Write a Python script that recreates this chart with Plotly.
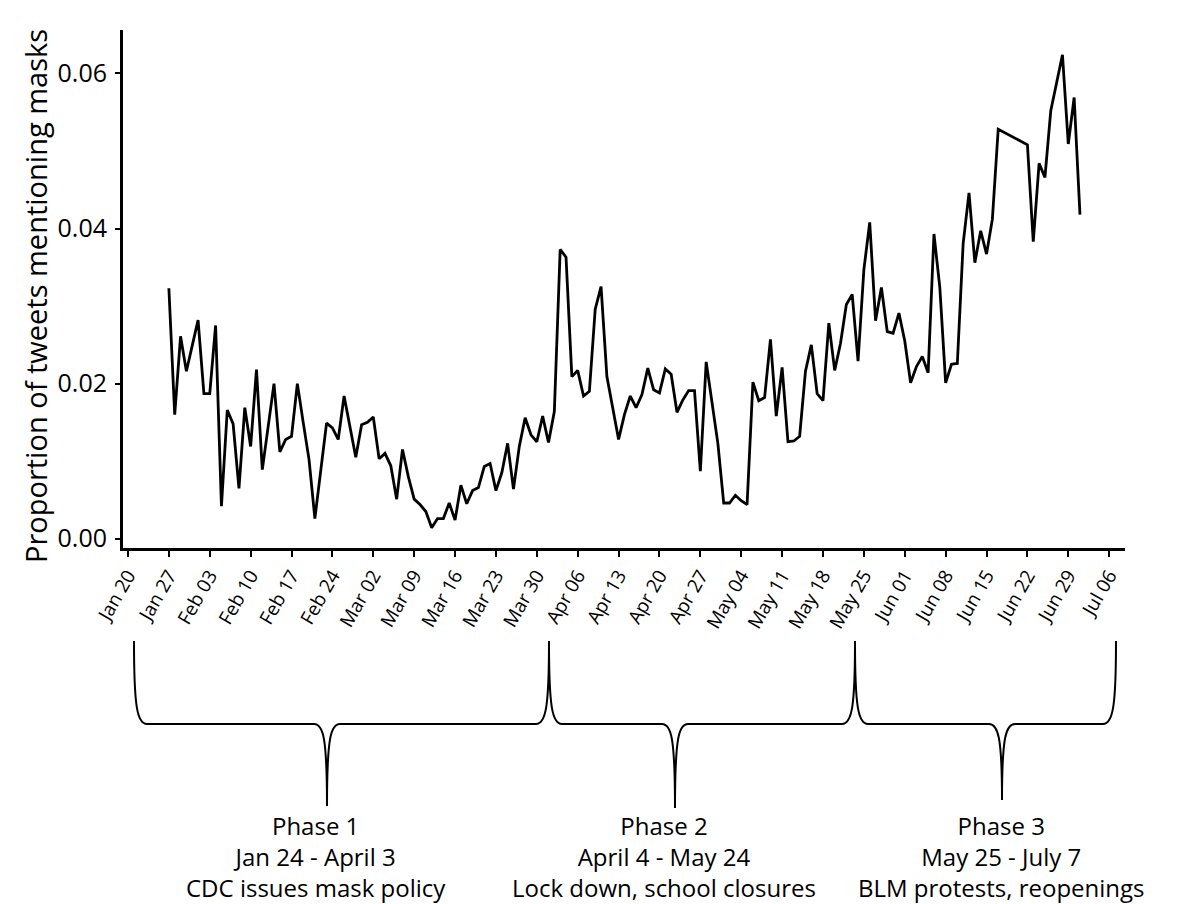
import plotly.graph_objects as go
import pandas as pd

# ---------------- data ----------------
dates = pd.date_range("2020-01-27", "2020-07-01", freq="D")
mask_share = [
    0.0323, 0.0160, 0.0261, 0.0216, 0.0249, 0.0282, 0.0187, 0.0187, 0.0275, 0.0042,  # Jan27-Feb05
    0.0166, 0.0148, 0.0065, 0.0169, 0.0119, 0.0218, 0.0089, 0.0145, 0.0200, 0.0112,  # Feb06-Feb15
    0.0128, 0.0132, 0.0200, 0.0150, 0.0102, 0.0026, 0.0089, 0.0149, 0.0143, 0.0128,  # Feb16-Feb25
    0.0184, 0.0144, 0.0105, 0.0147, 0.0150, 0.0157, 0.0103, 0.0110, 0.0094, 0.0051,  # Feb26-Mar06
    0.0115, 0.0080, 0.0051, 0.0044, 0.0035, 0.0014, 0.0026, 0.0026, 0.0046, 0.0024,  # Mar07-Mar16
    0.0069, 0.0045, 0.0062, 0.0066, 0.0093, 0.0097, 0.0062, 0.0085, 0.0123, 0.0064,  # Mar17-Mar26
    0.0119, 0.0156, 0.0134, 0.0125, 0.0158, 0.0124, 0.0164, 0.0373, 0.0363, 0.0209,  # Mar27-Apr05
    0.0217, 0.0184, 0.0190, 0.0296, 0.0325, 0.0209, 0.0166, 0.0128, 0.0160, 0.0184,  # Apr06-Apr15
    0.0169, 0.0186, 0.0220, 0.0192, 0.0188, 0.0219, 0.0212, 0.0163, 0.0179, 0.0191,  # Apr16-Apr25
    0.0191, 0.0087, 0.0228, 0.0177, 0.0123, 0.0046, 0.0046, 0.0056, 0.0049, 0.0044,  # Apr26-May05
    0.0202, 0.0178, 0.0182, 0.0257, 0.0158, 0.0221, 0.0125, 0.0126, 0.0132, 0.0216,  # May06-May15
    0.0250, 0.0187, 0.0178, 0.0278, 0.0217, 0.0252, 0.0302, 0.0315, 0.0229, 0.0347,  # May16-May25
    0.0408, 0.0281, 0.0324, 0.0267, 0.0265, 0.0291, 0.0255, 0.0201, 0.0222, 0.0235,  # May26-Jun04
    0.0214, 0.0393, 0.0324, 0.0201, 0.0225, 0.0226, 0.0381, 0.0446, 0.0356, 0.0397,  # Jun05-Jun14
    0.0367, 0.0412, 0.0528, None, None, None, None, 0.0508, 0.0383, 0.0484,          # Jun15-Jun24
    0.0466, 0.0552, 0.0588, 0.0624, 0.0509, 0.0569, 0.0418,                          # Jun25-Jul01
]
y_tick_vals = [0.00, 0.02, 0.04, 0.06]
y_tick_text = ["0.00", "0.02", "0.04", "0.06"]
y_title = "Proportion of tweets mentioning masks"
phase_labels = [
    "Phase 1<br>Jan 24 - April 3<br>CDC issues mask policy",
    "Phase 2<br>April 4 - May 24<br>Lock down, school closures",
    "Phase 3<br>May 25 - July 7<br>BLM protests, reopenings",
]

# ---------------- layout geometry (pixels) ----------------
W, H = 1180, 904
L, R, T, B = 123, 1125, 30, 548
FONT = "Open Sans, Noto Sans, sans-serif"


def fx(x):
    return (x - L) / (R - L)


def fy(y):
    return (B - y) / (B - T)


def P(x, y):
    return f"{fx(x):.5f},{fy(y):.5f}"


def brace_path(xa, xb, xt, ytop=641, ymid=724, ytip=806, w=13):
    return (
        f"M {P(xa, ytop)} C {P(xa, ytop + 65)} {P(xa + 3, ymid)} {P(xa + w, ymid)} "
        f"L {P(xt - w, ymid)} "
        f"C {P(xt - 4, ymid)} {P(xt, ymid + 12)} {P(xt, ytip)} "
        f"C {P(xt, ymid + 12)} {P(xt + 4, ymid)} {P(xt + w, ymid)} "
        f"L {P(xb - w, ymid)} "
        f"C {P(xb - 3, ymid)} {P(xb, ytop + 65)} {P(xb, ytop)}"
    )


brace_defs = [  # (left end, right end, tip, tip depth)
    (134, 549, 327, 806),
    (549, 855, 675, 808),
    (855, 1116, 1002, 800),
]
label_centers = [316, 664, 1001]

fig = go.Figure()
fig.add_trace(go.Scatter(
    x=dates, y=mask_share, mode="lines", connectgaps=True,
    line=dict(color="black", width=2.8),
    showlegend=False,
))

shapes = [
    dict(type="path", xref="paper", yref="paper",
         path=brace_path(a, b, t, ytip=d),
         line=dict(color="black", width=2))
    for a, b, t, d in brace_defs
]

annotations = [
    dict(text=txt, xref="paper", yref="paper", x=fx(cx), y=fy(856),
         xanchor="center", yanchor="middle", showarrow=False, align="center",
         font=dict(family=FONT, size=24, color="black"))
    for txt, cx in zip(phase_labels, label_centers)
]
annotations.append(dict(
    text=y_title, xref="paper", yref="paper", x=fx(35), y=fy(296),
    xanchor="center", yanchor="middle", textangle=-90, showarrow=False,
    font=dict(family=FONT, size=29, color="black"),
))

fig.update_layout(
    width=W, height=H,
    margin=dict(l=L, r=W - R, t=T, b=H - B, pad=0),
    paper_bgcolor="white", plot_bgcolor="white",
    shapes=shapes, annotations=annotations,
    xaxis=dict(
        type="date",
        range=["2020-01-19 03:30", "2020-07-08 17:00"],
        tick0="2020-01-20", dtick=7 * 86400000, tickformat="%b %d",
        tickangle=-60, ticks="outside", ticklen=6, tickwidth=2, tickcolor="black",
        showline=True, linewidth=3, linecolor="black", showgrid=False, zeroline=False,
        tickfont=dict(family=FONT, size=19, color="black"),
    ),
    yaxis=dict(
        range=[-0.0012, 0.0656],
        tickvals=y_tick_vals, ticktext=y_tick_text,
        ticks="outside", ticklen=5, tickwidth=2, tickcolor="black",
        ticklabelstandoff=3,
        showline=True, linewidth=3, linecolor="black", showgrid=False, zeroline=False,
        tickfont=dict(family=FONT, size=25, color="black"),
    ),
)

fig.write_html(
    "out.html",
    config={"displayModeBar": False},
    post_script="document.body.style.margin='0';document.body.style.padding='0';",
)
